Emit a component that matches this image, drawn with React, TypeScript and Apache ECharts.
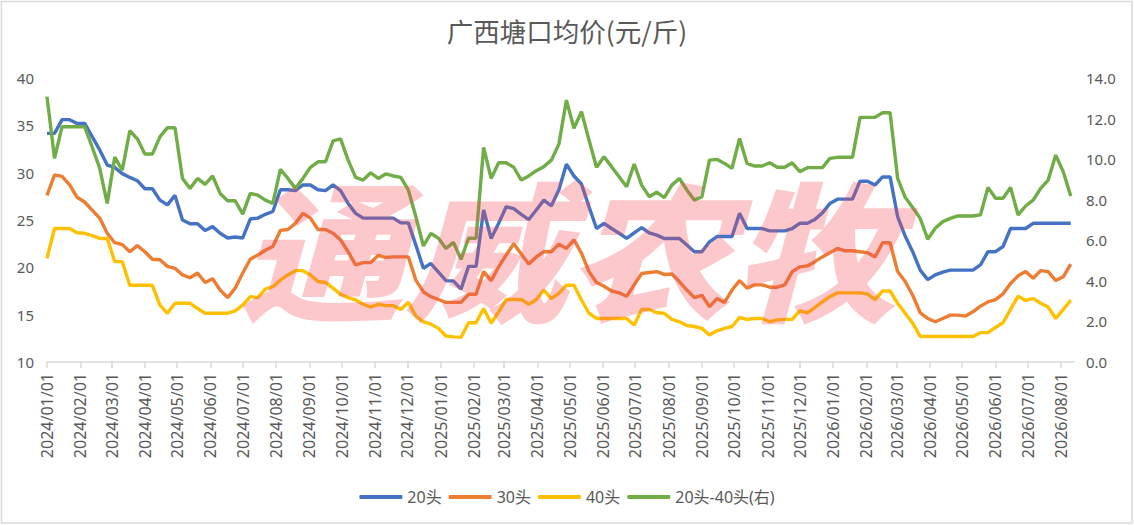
import React, { useEffect, useRef } from "react";
import * as echarts from "echarts";

// ---- data (weekly, starting 2024/01/01) ----
const START = { y: 2024, m: 0, d: 1 };
const STEP_DAYS = 7;

const s20: number[] = [
  34.15, 34.15, 35.6, 35.6, 35.2, 35.2, 33.8, 32.4, 30.8, 30.55,
  29.9, 29.5, 29.15, 28.3, 28.3, 27.1, 26.6, 27.6, 25.0, 24.6,
  24.6, 23.9, 24.3, 23.6, 23.1, 23.2, 23.1, 25.1, 25.2, 25.6,
  25.9, 28.2, 28.2, 28.1, 28.7, 28.7, 28.2, 28.1, 28.7, 28.1,
  26.75, 25.7, 25.2, 25.2, 25.2, 25.2, 25.2, 24.7, 24.7, 22.35,
  19.9, 20.4, 19.5, 18.6, 18.55, 17.7, 20.1, 20.1, 26.05, 23.05,
  24.65, 26.4, 26.2, 25.6, 25.05, 26.05, 27.1, 26.5, 28.2, 30.9,
  29.65, 28.8, 26.4, 24.1, 24.65, 24.1, 23.6, 23.05, 23.65, 24.2,
  23.65, 23.4, 23.05, 23.05, 23.05, 22.35, 21.65, 21.65, 22.7, 23.25,
  23.25, 23.25, 25.7, 24.1, 24.1, 24.1, 23.85, 23.85, 23.85, 24.1,
  24.65, 24.65, 25.05, 25.75, 26.75, 27.2, 27.2, 27.2, 29.1, 29.1,
  28.7, 29.55, 29.55, 25.35, 23.3, 21.65, 19.7, 18.7, 19.2, 19.5,
  19.7, 19.7, 19.7, 19.7, 20.25, 21.65, 21.65, 22.2, 24.1, 24.1,
  24.1, 24.65, 24.65, 24.65, 24.65, 24.65, 24.65,
];

const s30: number[] = [
  27.6, 29.75, 29.6, 28.7, 27.4, 26.9, 26.05, 25.2, 23.6, 22.6,
  22.4, 21.65, 22.3, 21.65, 20.85, 20.8, 20.1, 19.9, 19.2, 18.9,
  19.4, 18.4, 18.8, 17.6, 16.8, 17.8, 19.4, 20.85, 21.3, 21.8,
  22.2, 23.9, 24.0, 24.65, 25.7, 25.2, 24.0, 24.0, 23.6, 22.9,
  21.65, 20.25, 20.5, 20.5, 21.25, 21.05, 21.1, 21.1, 21.1, 18.65,
  17.4, 16.9, 16.6, 16.3, 16.3, 16.3, 17.15, 17.15, 19.55, 18.6,
  20.05, 21.3, 22.5, 21.4, 20.35, 21.1, 21.65, 21.65, 22.45, 22.0,
  22.9, 21.5, 19.55, 18.4, 18.0, 17.5, 17.3, 16.95, 18.15, 19.35,
  19.45, 19.55, 19.25, 19.3, 18.5, 17.6, 16.8, 17.05, 15.85, 16.7,
  16.3, 17.6, 18.6, 17.8, 18.15, 18.15, 17.9, 17.9, 18.15, 19.55,
  20.05, 20.15, 20.6, 21.1, 21.55, 22.0, 21.75, 21.75, 21.65, 21.55,
  21.1, 22.6, 22.6, 19.55, 18.5, 17.05, 15.2, 14.6, 14.25, 14.6,
  14.95, 14.95, 14.85, 15.3, 15.9, 16.35, 16.6, 17.2, 18.3, 19.1,
  19.55, 18.85, 19.65, 19.55, 18.6, 19.0, 20.35,
];

const s40: number[] = [
  20.95, 24.1, 24.1, 24.1, 23.65, 23.6, 23.35, 23.05, 23.05, 20.6,
  20.6, 18.1, 18.1, 18.1, 18.1, 16.0, 15.15, 16.2, 16.2, 16.2,
  15.65, 15.15, 15.15, 15.15, 15.15, 15.4, 16.0, 16.9, 16.8, 17.7,
  17.95, 18.65, 19.2, 19.65, 19.65, 19.2, 18.5, 18.4, 17.8, 17.15,
  16.8, 16.55, 16.1, 15.8, 16.1, 15.95, 15.95, 15.55, 16.3, 14.85,
  14.25, 14.0, 13.55, 12.75, 12.65, 12.6, 14.15, 14.15, 15.65, 14.1,
  15.3, 16.6, 16.6, 16.6, 16.1, 16.6, 17.6, 16.7, 17.25, 18.1,
  18.1, 16.55, 15.15, 14.6, 14.6, 14.6, 14.6, 14.6, 13.9, 15.55,
  15.55, 15.2, 15.15, 14.5, 14.25, 13.85, 13.75, 13.55, 12.85, 13.3,
  13.55, 13.75, 14.7, 14.5, 14.6, 14.6, 14.25, 14.45, 14.5, 14.5,
  15.4, 15.2, 15.75, 16.35, 16.9, 17.3, 17.3, 17.3, 17.3, 17.2,
  16.6, 17.5, 17.5, 16.2, 15.15, 14.1, 12.7, 12.7, 12.7, 12.7,
  12.7, 12.7, 12.7, 12.7, 13.1, 13.1, 13.65, 14.15, 15.55, 16.95,
  16.5, 16.7, 16.2, 15.8, 14.6, 15.55, 16.55,
];

const sDiff: number[] = [
  13.08, 10.04, 11.6, 11.6, 11.6, 11.6, 10.6, 9.55, 7.82, 10.1,
  9.46, 11.4, 11.0, 10.25, 10.25, 11.1, 11.55, 11.55, 9.05, 8.56,
  9.05, 8.76, 9.17, 8.31, 7.95, 7.95, 7.29, 8.31, 8.23, 7.98,
  7.82, 9.5, 9.05, 8.56, 9.05, 9.6, 9.87, 9.87, 10.9, 11.0,
  9.95, 9.1, 8.97, 9.33, 9.05, 9.27, 9.17, 9.1, 8.48, 7.16,
  5.72, 6.34, 6.1, 5.6, 5.9, 5.06, 6.1, 6.1, 10.58, 9.05,
  9.82, 9.82, 9.6, 8.97, 9.17, 9.43, 9.63, 9.95, 10.74, 12.91,
  11.52, 12.34, 10.94, 9.6, 10.12, 9.63, 9.13, 8.64, 9.76, 8.72,
  8.15, 8.37, 8.1, 8.72, 9.05, 8.48, 7.98, 8.15, 9.95, 9.99,
  9.79, 9.55, 11.02, 9.79, 9.66, 9.66, 9.82, 9.6, 9.6, 9.82,
  9.38, 9.58, 9.58, 9.58, 10.04, 10.09, 10.09, 10.09, 12.06, 12.06,
  12.06, 12.29, 12.29, 9.05, 8.12, 7.62, 7.08, 6.05, 6.59, 6.92,
  7.08, 7.2, 7.2, 7.2, 7.25, 8.61, 8.07, 8.07, 8.61, 7.25,
  7.69, 7.98, 8.56, 8.97, 10.2, 9.38, 8.18,
];

const seriesNames = ["20头", "30头", "40头", "20头-40头(右)"];
const seriesColors = ["#4472C4", "#ED7D31", "#FFC000", "#70AD47"];

const monthTickLabels: string[] = [
  "2024/01/01", "2024/02/01", "2024/03/01", "2024/04/01", "2024/05/01", "2024/06/01",
  "2024/07/01", "2024/08/01", "2024/09/01", "2024/10/01", "2024/11/01", "2024/12/01",
  "2025/01/01", "2025/02/01", "2025/03/01", "2025/04/01", "2025/05/01", "2025/06/01",
  "2025/07/01", "2025/08/01", "2025/09/01", "2025/10/01", "2025/11/01", "2025/12/01",
  "2026/01/01", "2026/02/01", "2026/03/01", "2026/04/01", "2026/05/01", "2026/06/01",
  "2026/07/01", "2026/08/01",
];

const leftTicks = { min: 10, max: 40, interval: 5 };
const rightTicks = { min: 0, max: 14, interval: 2 };
const AXIS_END = "2026/08/13";

function parseYMD(s: string): number {
  const [y, m, d] = s.split("/").map(Number);
  return new Date(y, m - 1, d).getTime();
}

export default function App() {
  const ref = useRef<HTMLDivElement>(null);

  useEffect(() => {
    if (!ref.current) return;
    const chart = echarts.init(ref.current, undefined, { renderer: "svg" });

    const dates = s20.map((_, i) => new Date(START.y, START.m, START.d + STEP_DAYS * i).getTime());
    const monthTicks = monthTickLabels.map(parseYMD);
    const labelMap = new Map<number, string>();
    monthTicks.forEach((t, i) => labelMap.set(t, monthTickLabels[i]));

    const all = [s20, s30, s40, sDiff];
    const font = "'Noto Sans', 'Noto Sans CJK SC', sans-serif";
    const gray = "#595959";

    chart.setOption({
      animation: false,
      backgroundColor: "#ffffff",
      title: {
        text: "广西塘口均价(元/斤)",
        left: "center",
        top: 12,
        textStyle: { fontSize: 26.5, fontWeight: "normal", color: gray, fontFamily: "'Noto Sans CJK SC', sans-serif" },
      },
      legend: {
        top: 484,
        left: "center",
        icon: "roundRect",
        itemWidth: 43,
        itemHeight: 4,
        itemGap: 7,
        textStyle: { fontSize: 16, color: gray, fontFamily: font },
        data: seriesNames,
      },
      grid: { left: 47, right: 60, top: 78, bottom: 163, outerBoundsMode: "none" },
      xAxis: {
        type: "value",
        min: dates[0],
        max: parseYMD(AXIS_END),
        axisLine: { show: true, lineStyle: { color: "#d9d9d9", width: 1.5 } },
        axisTick: { show: true, length: 6, lineStyle: { color: "#d9d9d9", width: 1.5 }, customValues: monthTicks },
        axisLabel: {
          rotate: 90,
          margin: 11,
          fontSize: 16,
          color: gray,
          fontFamily: font,
          customValues: monthTicks,
          formatter: (v: number) => labelMap.get(v) ?? "",
        },
        splitLine: { show: false },
      },
      yAxis: [
        {
          type: "value",
          min: leftTicks.min,
          max: leftTicks.max,
          interval: leftTicks.interval,
          axisLine: { show: false },
          axisTick: { show: false },
          splitLine: { show: false },
          axisLabel: { fontSize: 15, color: gray, fontFamily: font, margin: 13 },
        },
        {
          type: "value",
          position: "right",
          min: rightTicks.min,
          max: rightTicks.max,
          interval: rightTicks.interval,
          axisLine: { show: false },
          axisTick: { show: false },
          splitLine: { show: false },
          axisLabel: { fontSize: 15, color: gray, fontFamily: font, margin: 12, formatter: (v: number) => v.toFixed(1) },
        },
      ],
      series: all.map((arr, k) => ({
        name: seriesNames[k],
        type: "line",
        yAxisIndex: k === 3 ? 1 : 0,
        data: arr.map((v, i) => [dates[i], v]),
        symbol: "none",
        lineStyle: { width: 3.4, color: seriesColors[k] },
        itemStyle: { color: seriesColors[k] },
      })),
      graphic: [
        {
          type: "rect",
          silent: true,
          z: 0,
          shape: { x: 1.5, y: 1.5, width: 1130.5, height: 521.5 },
          style: { fill: "none", stroke: "#d9d9d9", lineWidth: 1.5 },
        },
        {
          type: "text",
          silent: true,
          z: 100,
          x: 568,
          y: 244,
          scaleX: 1.04,
          scaleY: 0.95,
          style: {
            text: "通威农牧",
            fill: "rgba(245,72,85,0.3)",
            fontSize: 158,
            fontWeight: 900,
            fontStyle: "italic",
            fontFamily: "'Noto Sans CJK SC', sans-serif",
            textAlign: "center",
            textVerticalAlign: "middle",
          },
        },
      ],
    });

    return () => chart.dispose();
  }, []);

  return (
    <div
      ref={ref}
      style={{ position: "fixed", left: 0, top: 0, width: 1134, height: 525, background: "#fff" }}
    />
  );
}
